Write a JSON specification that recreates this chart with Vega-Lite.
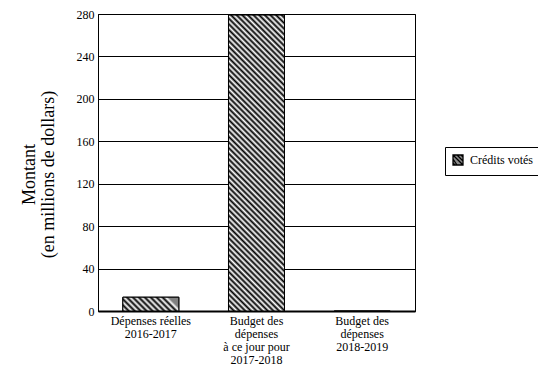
{
  "$schema": "https://vega.github.io/schema/vega-lite/v6.json",
  "width": 317,
  "height": 297,
  "autosize": {"type": "none"},
  "padding": {"left": 98, "top": 14, "right": 123, "bottom": 56},
  "config": {
    "font": "'Liberation Serif', 'Times New Roman', Times, serif",
    "view": {"stroke": "#000", "strokeWidth": 1}
  },
  "data": {
    "values": [
      {"periode": "Dépenses réelles|2016-2017", "serie": "Crédits votés", "montant": 13},
      {"periode": "Budget des|dépenses|à ce jour pour|2017-2018", "serie": "Crédits votés", "montant": 279},
      {"periode": "Budget des|dépenses|2018-2019", "serie": "Crédits votés", "montant": 0}
    ]
  },
  "encoding": {
    "x": {
      "field": "periode",
      "type": "nominal",
      "sort": null,
      "scale": {"paddingInner": 0.47, "paddingOuter": 0.235},
      "axis": {
        "title": null,
        "labelAngle": 0,
        "labelExpr": "split(datum.label, '|')",
        "labelFont": "'Liberation Serif', 'Times New Roman', Times, serif",
        "labelFontSize": 12,
        "labelLineHeight": 13.3,
        "labelColor": "#000",
        "labelPadding": 4,
        "ticks": false,
        "domainColor": "#000",
        "domainWidth": 2
      }
    },
    "y": {
      "field": "montant",
      "type": "quantitative",
      "scale": {"domain": [0, 280], "nice": false},
      "axis": {
        "values": [0, 40, 80, 120, 160, 200, 240, 280],
        "title": ["Montant", "(en millions de dollars)"],
        "titleFont": "'Liberation Serif', 'Times New Roman', Times, serif",
        "titleFontSize": 18,
        "titleFontWeight": "normal",
        "titleColor": "#000",
        "titleLineHeight": 19,
        "titleAngle": -90,
        "titleAlign": "center",
        "titleBaseline": "bottom",
        "titleX": -60,
        "titleY": 160,
        "labelFont": "'Liberation Serif', 'Times New Roman', Times, serif",
        "labelFontSize": 12,
        "labelColor": "#000",
        "labelPadding": 4,
        "ticks": false,
        "grid": true,
        "gridColor": "#000",
        "gridOpacity": 1,
        "gridWidth": 1,
        "domainColor": "#000"
      }
    }
  },
  "layer": [
    {
      "mark": {"type": "bar", "stroke": "#000", "strokeWidth": 1},
      "encoding": {
        "fill": {
          "field": "serie",
          "type": "nominal",
          "scale": {"range": ["#8a8a8a"]},
          "legend": {
            "title": null,
            "orient": "none",
            "legendX": 347,
            "legendY": 133,
            "strokeColor": "#000",
            "padding": 7,
            "symbolType": "M-1,-1H1V1H-1Z M-1,-1L1,1 M-1,-0.2L-0.2,1 M-1,0.6L-0.6,1 M-0.2,-1L1,0.2 M0.6,-1L1,-0.6",
            "symbolSize": 100,
            "symbolStrokeColor": "#000",
            "symbolStrokeWidth": 1.3,
            "symbolOpacity": 1,
            "labelFont": "'Liberation Serif', 'Times New Roman', Times, serif",
            "labelFontSize": 12,
            "labelColor": "#000",
            "labelOffset": 6
          }
        }
      }
    },
    {
      "transform": [{"filter": "datum.montant > 0 && datum.montant < 100"}],
      "mark": {
        "type": "bar", "stroke": "#000", "strokeWidth": 1,
        "fill": {
          "gradient": "linear", "x1": 0, "y1": 1, "x2": 1, "y2": 0.7537,
          "stops": [
            {"offset": 0, "color": "#000"}, {"offset": 0.05, "color": "#fff"},
            {"offset": 0.1, "color": "#000"}, {"offset": 0.15, "color": "#fff"},
            {"offset": 0.2, "color": "#000"}, {"offset": 0.25, "color": "#fff"},
            {"offset": 0.3, "color": "#000"}, {"offset": 0.35, "color": "#fff"},
            {"offset": 0.4, "color": "#000"}, {"offset": 0.45, "color": "#fff"},
            {"offset": 0.5, "color": "#000"}, {"offset": 0.55, "color": "#fff"},
            {"offset": 0.6, "color": "#000"}, {"offset": 0.65, "color": "#fff"},
            {"offset": 0.7, "color": "#000"}, {"offset": 0.75, "color": "#fff"},
            {"offset": 0.8, "color": "#000"}, {"offset": 0.85, "color": "#fff"},
            {"offset": 0.9, "color": "#000"}, {"offset": 0.95, "color": "#fff"},
            {"offset": 1, "color": "#808080"}
          ]
        }
      }
    },
    {
      "transform": [{"filter": "datum.montant >= 100"}],
      "mark": {
        "type": "bar", "stroke": "#000", "strokeWidth": 1,
        "fill": {
          "gradient": "linear", "x1": 0, "y1": 1, "x2": 0.2172, "y2": -0.1481,
          "stops": [
            {"offset": 0, "color": "#000"}, {"offset": 0.008, "color": "#fff"},
            {"offset": 0.016, "color": "#000"}, {"offset": 0.024, "color": "#fff"},
            {"offset": 0.032, "color": "#000"}, {"offset": 0.04, "color": "#fff"},
            {"offset": 0.048, "color": "#000"}, {"offset": 0.056, "color": "#fff"},
            {"offset": 0.064, "color": "#000"}, {"offset": 0.072, "color": "#fff"},
            {"offset": 0.08, "color": "#000"}, {"offset": 0.088, "color": "#fff"},
            {"offset": 0.096, "color": "#000"}, {"offset": 0.104, "color": "#fff"},
            {"offset": 0.112, "color": "#000"}, {"offset": 0.12, "color": "#fff"},
            {"offset": 0.128, "color": "#000"}, {"offset": 0.136, "color": "#fff"},
            {"offset": 0.144, "color": "#000"}, {"offset": 0.152, "color": "#fff"},
            {"offset": 0.16, "color": "#000"}, {"offset": 0.168, "color": "#fff"},
            {"offset": 0.176, "color": "#000"}, {"offset": 0.184, "color": "#fff"},
            {"offset": 0.192, "color": "#000"}, {"offset": 0.2, "color": "#fff"},
            {"offset": 0.208, "color": "#000"}, {"offset": 0.216, "color": "#fff"},
            {"offset": 0.224, "color": "#000"}, {"offset": 0.232, "color": "#fff"},
            {"offset": 0.24, "color": "#000"}, {"offset": 0.248, "color": "#fff"},
            {"offset": 0.256, "color": "#000"}, {"offset": 0.264, "color": "#fff"},
            {"offset": 0.272, "color": "#000"}, {"offset": 0.28, "color": "#fff"},
            {"offset": 0.288, "color": "#000"}, {"offset": 0.296, "color": "#fff"},
            {"offset": 0.304, "color": "#000"}, {"offset": 0.312, "color": "#fff"},
            {"offset": 0.32, "color": "#000"}, {"offset": 0.328, "color": "#fff"},
            {"offset": 0.336, "color": "#000"}, {"offset": 0.344, "color": "#fff"},
            {"offset": 0.352, "color": "#000"}, {"offset": 0.36, "color": "#fff"},
            {"offset": 0.368, "color": "#000"}, {"offset": 0.376, "color": "#fff"},
            {"offset": 0.384, "color": "#000"}, {"offset": 0.392, "color": "#fff"},
            {"offset": 0.4, "color": "#000"}, {"offset": 0.408, "color": "#fff"},
            {"offset": 0.416, "color": "#000"}, {"offset": 0.424, "color": "#fff"},
            {"offset": 0.432, "color": "#000"}, {"offset": 0.44, "color": "#fff"},
            {"offset": 0.448, "color": "#000"}, {"offset": 0.456, "color": "#fff"},
            {"offset": 0.464, "color": "#000"}, {"offset": 0.472, "color": "#fff"},
            {"offset": 0.48, "color": "#000"}, {"offset": 0.488, "color": "#fff"},
            {"offset": 0.496, "color": "#000"}, {"offset": 0.504, "color": "#fff"},
            {"offset": 0.512, "color": "#000"}, {"offset": 0.52, "color": "#fff"},
            {"offset": 0.528, "color": "#000"}, {"offset": 0.536, "color": "#fff"},
            {"offset": 0.544, "color": "#000"}, {"offset": 0.552, "color": "#fff"},
            {"offset": 0.56, "color": "#000"}, {"offset": 0.568, "color": "#fff"},
            {"offset": 0.576, "color": "#000"}, {"offset": 0.584, "color": "#fff"},
            {"offset": 0.592, "color": "#000"}, {"offset": 0.6, "color": "#fff"},
            {"offset": 0.608, "color": "#000"}, {"offset": 0.616, "color": "#fff"},
            {"offset": 0.624, "color": "#000"}, {"offset": 0.632, "color": "#fff"},
            {"offset": 0.64, "color": "#000"}, {"offset": 0.648, "color": "#fff"},
            {"offset": 0.656, "color": "#000"}, {"offset": 0.664, "color": "#fff"},
            {"offset": 0.672, "color": "#000"}, {"offset": 0.68, "color": "#fff"},
            {"offset": 0.688, "color": "#000"}, {"offset": 0.696, "color": "#fff"},
            {"offset": 0.704, "color": "#000"}, {"offset": 0.712, "color": "#fff"},
            {"offset": 0.72, "color": "#000"}, {"offset": 0.728, "color": "#fff"},
            {"offset": 0.736, "color": "#000"}, {"offset": 0.744, "color": "#fff"},
            {"offset": 0.752, "color": "#000"}, {"offset": 0.76, "color": "#fff"},
            {"offset": 0.768, "color": "#000"}, {"offset": 0.776, "color": "#fff"},
            {"offset": 0.784, "color": "#000"}, {"offset": 0.792, "color": "#fff"},
            {"offset": 0.8, "color": "#000"}, {"offset": 0.808, "color": "#fff"},
            {"offset": 0.816, "color": "#000"}, {"offset": 0.824, "color": "#fff"},
            {"offset": 0.832, "color": "#000"}, {"offset": 0.84, "color": "#fff"},
            {"offset": 0.848, "color": "#000"}, {"offset": 0.856, "color": "#fff"},
            {"offset": 0.864, "color": "#000"}, {"offset": 0.872, "color": "#fff"},
            {"offset": 0.88, "color": "#000"}, {"offset": 0.888, "color": "#fff"},
            {"offset": 0.896, "color": "#000"}, {"offset": 0.904, "color": "#fff"},
            {"offset": 0.912, "color": "#000"}, {"offset": 0.92, "color": "#fff"},
            {"offset": 0.928, "color": "#000"}, {"offset": 0.936, "color": "#fff"},
            {"offset": 0.944, "color": "#000"}, {"offset": 0.952, "color": "#fff"},
            {"offset": 0.96, "color": "#000"}, {"offset": 0.968, "color": "#fff"},
            {"offset": 0.976, "color": "#000"}, {"offset": 0.984, "color": "#fff"},
            {"offset": 0.992, "color": "#000"}, {"offset": 1, "color": "#fff"}
          ]
        }
      }
    }
  ]
}
